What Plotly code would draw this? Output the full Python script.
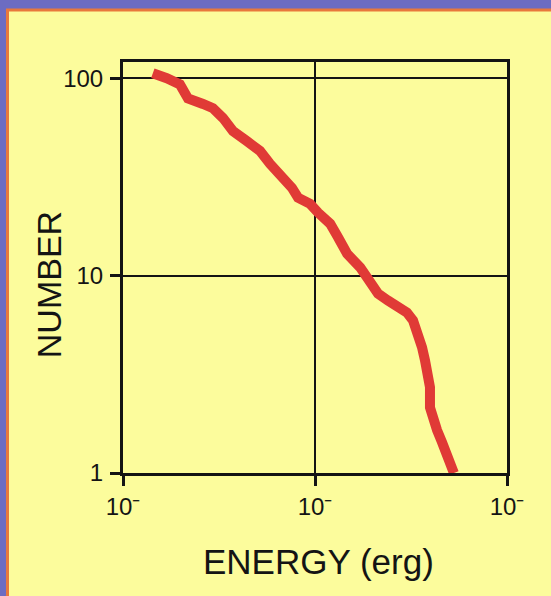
import plotly.graph_objects as go

# Energy in units of the lowest axis decade (axis labels' exponents are illegible)
energy = [1.43, 1.60, 1.69, 1.98, 2.18, 2.61, 2.94, 3.32, 3.74, 4.42, 5.17, 5.83, 6.73,
          7.59, 8.16, 9.42, 10.4, 12.0, 13.2, 14.7, 17.2, 19.3, 21.3, 24.0, 27.1,
          30.1, 32.4, 34.4, 36.1, 37.4, 38.8, 39.7, 39.7, 41.2, 43.2, 45.9, 48.7,
          51.7, 52.9]
number = [106, 103, 100, 93, 79, 74, 70.5, 62.8, 54, 48, 42.8, 36.8, 32,
          27.8, 24.8, 23.1, 20.8, 18.3, 15.6, 12.9, 11.0, 9.44, 8.11, 7.48, 6.89,
          6.50, 5.93, 5.09, 4.33, 3.72, 3.20, 2.72, 2.15, 1.85, 1.65, 1.43, 1.26,
          1.07, 1.0]

x_tickvals = [1, 10, 100]
x_ticktext = ["10\u207b", "10\u207b", "10\u207b"]
y_tickvals = [1, 10, 100]
y_ticktext = ["1", "10", "100"]

W, H = 551, 596
L, R, T, B = 123, 507, 61.5, 473
pw, ph = R - L, B - T

def px(x):
    return (x - L) / pw

def py(y):
    return 1 - (y - T) / ph

BLACK = "#141414"
YELLOW = "#FCFC9C"
ORANGE = "#E8783C"
RED = "#E03A36"
FONT = "Liberation Sans, Arial, sans-serif"

fig = go.Figure()
fig.add_trace(go.Scatter(
    x=energy, y=number, mode="lines",
    line=dict(color=RED, width=10),
    hoverinfo="skip", showlegend=False,
))

fig.update_layout(
    width=W, height=H,
    margin=dict(l=L, r=W - R, t=T, b=H - B, pad=0),
    paper_bgcolor="#6C6CC2",
    plot_bgcolor=YELLOW,
    showlegend=False,
    font=dict(family=FONT, color=BLACK),
    shapes=[dict(
        type="rect", xref="paper", yref="paper",
        x0=px(7.5), x1=px(W + 10), y0=py(9.5), y1=py(H + 10),
        fillcolor=YELLOW, line=dict(color=ORANGE, width=3), layer="below",
    )],
    annotations=[
        dict(text="ENERGY (erg)", xref="paper", yref="paper",
             x=px(318), y=py(562), xanchor="center", yanchor="middle",
             showarrow=False, font=dict(size=35, color=BLACK, family=FONT)),
        dict(text="NUMBER", xref="paper", yref="paper", textangle=-90,
             x=px(49), y=py(285), xanchor="center", yanchor="middle",
             showarrow=False, font=dict(size=34, color=BLACK, family=FONT)),
    ],
)

fig.update_xaxes(
    type="log", range=[0, 2],
    tickvals=x_tickvals, ticktext=x_ticktext,
    ticks="outside", ticklen=10, tickwidth=3, tickcolor=BLACK,
    tickfont=dict(size=24, color=BLACK, family=FONT),
    showline=True, linecolor=BLACK, linewidth=3, mirror=True,
    showgrid=True, gridcolor=BLACK, gridwidth=2,
    zeroline=False, fixedrange=True,
)
fig.update_yaxes(
    type="log", range=[0, 2.082],
    tickvals=y_tickvals, ticktext=y_ticktext,
    ticks="outside", ticklen=10, tickwidth=3, tickcolor=BLACK,
    tickfont=dict(size=24, color=BLACK, family=FONT),
    ticklabelstandoff=2,
    showline=True, linecolor=BLACK, linewidth=3, mirror=True,
    showgrid=True, gridcolor=BLACK, gridwidth=2,
    zeroline=False, fixedrange=True,
)

fig.write_html("out.html")
